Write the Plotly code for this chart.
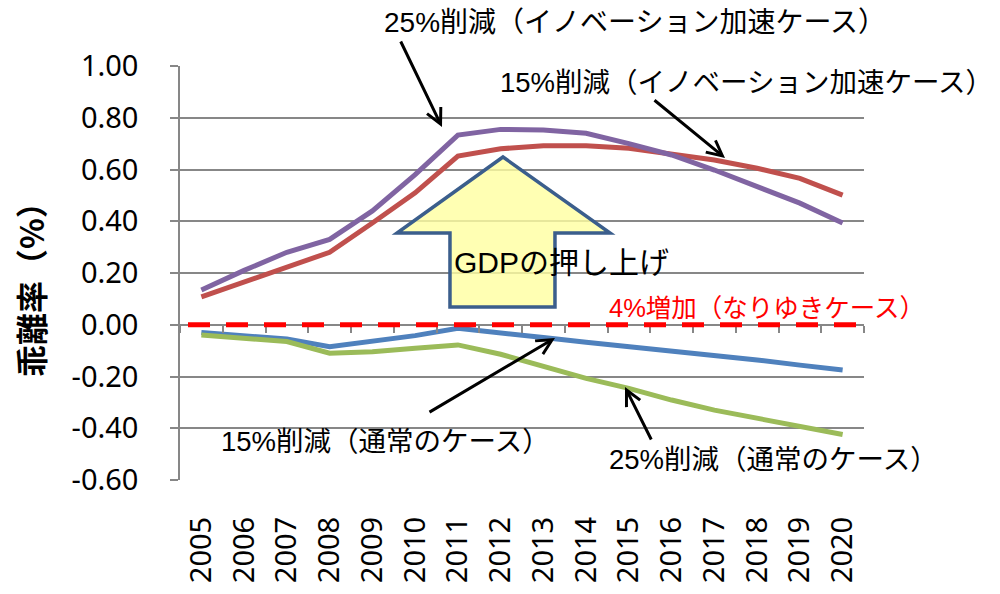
import plotly.graph_objects as go

years = list(range(2005, 2021))
innov25 = [0.134, 0.21, 0.28, 0.33, 0.44, 0.58, 0.733, 0.755, 0.753, 0.74, 0.70, 0.656, 0.598, 0.534, 0.47, 0.393]
innov15 = [0.108, 0.166, 0.225, 0.28, 0.393, 0.51, 0.652, 0.68, 0.692, 0.692, 0.682, 0.66, 0.637, 0.605, 0.566, 0.501]
normal15 = [-0.03, -0.043, -0.055, -0.085, -0.065, -0.042, -0.014, -0.03, -0.049, -0.068, -0.085, -0.10, -0.117, -0.136, -0.156, -0.175]
normal25 = [-0.04, -0.052, -0.065, -0.11, -0.104, -0.091, -0.078, -0.114, -0.162, -0.207, -0.246, -0.291, -0.33, -0.362, -0.391, -0.424]
baseline4 = 0.0
ytick_vals = [1.0, 0.8, 0.6, 0.4, 0.2, 0.0, -0.2, -0.4, -0.6]
ytick_text = ["1.00", "0.80", "0.60", "0.40", "0.20", "0.00", "-0.20", "-0.40", "-0.60"]

W, H = 1000, 594
L, R, T, B = 180, 136, 66, 114
PW, PH = W - L - R, H - T - B


def px(x):
    return (x - L) / PW


def py(y):
    return (H - B - y) / PH


JP = "Liberation Sans, Noto Sans CJK JP"
NUM = "Noto Sans, Open Sans"
GRID = "#878787"

fig = go.Figure()
series = [
    ("15%削減(通常のケース)", normal15, "#4F81BD"),
    ("25%削減(通常のケース)", normal25, "#9BBB59"),
    ("15%削減(イノベーション加速ケース)", innov15, "#C0504D"),
    ("25%削減(イノベーション加速ケース)", innov25, "#8064A2"),
]
for name, vals, col in series:
    fig.add_trace(go.Scatter(x=years, y=vals, name=name, mode="lines",
                             line=dict(color=col, width=5), showlegend=False))

# invisible trace to make the zero-crossing axis render
fig.add_trace(go.Scatter(x=[years[0]], y=[baseline4], xaxis="x2", mode="markers",
                         marker=dict(opacity=0), showlegend=False, hoverinfo="skip"))

fig.update_layout(
    width=W, height=H,
    margin=dict(l=L, r=R, t=T, b=B, autoexpand=False),
    plot_bgcolor="white", paper_bgcolor="white",
    xaxis=dict(range=[2004.5, 2020.5], tickvals=years, ticktext=[str(y) for y in years],
               tickangle=-90, showgrid=False, showline=False, zeroline=False, ticks="",
               tickfont=dict(family=NUM, size=29, color="black"), ticklabelstandoff=30),
    xaxis2=dict(range=[2004.5, 2020.5], overlaying="x", anchor="free", position=0.375,
                side="bottom", showline=True, linecolor=GRID, linewidth=1.5,
                tickvals=[y - 0.5 for y in years] + [2020.5], ticks="outside", ticklen=7,
                tickcolor=GRID, tickwidth=1.5, showticklabels=False, showgrid=False,
                zeroline=False),
    yaxis=dict(range=[-0.6, 1.0], tickvals=ytick_vals, ticktext=ytick_text,
               showgrid=True, gridcolor=GRID, gridwidth=1.5, zeroline=False,
               showline=True, linecolor=GRID, linewidth=1.5, ticks="outside",
               ticklen=8, tickcolor=GRID, tickwidth=1.5,
               tickfont=dict(family=NUM, size=29, color="black"), ticklabelstandoff=26),
)

# 4% increase baseline (dashed red)
fig.add_shape(type="line", xref="paper", yref="y", x0=px(188), x1=1.0,
              y0=baseline4, y1=baseline4, line=dict(color="#FF0000", width=5, dash="22px,16px"),
              layer="above")

# big "GDP push-up" arrow (decorative)
arrow_pts = [(503, 157), (610, 233), (555, 233), (555, 307), (450, 307), (450, 233), (397, 233)]
path = "M " + " L ".join(f"{px(a):.4f},{py(b):.4f}" for a, b in arrow_pts) + " Z"
fig.add_shape(type="path", xref="paper", yref="paper", path=path,
              fillcolor="rgba(255,255,160,0.8)", line=dict(color="#3B5E8C", width=3.5),
              layer="above")

fig.add_annotation(x=px(561), y=py(262), xref="paper", yref="paper", text="GDPの押し上げ",
                   showarrow=False, xanchor="center", yanchor="middle",
                   font=dict(family=JP, size=30, color="black"))

labels = [
    ("25%削減（イノベーション加速ケース）", 383, 23, 28, "black", "left"),
    ("15%削減（イノベーション加速ケース）", 994, 83, 27.5, "black", "right"),
    ("4%増加（なりゆきケース）", 608, 308, 25.5, "#FF0000", "left"),
    ("15%削減（通常のケース）", 220, 441, 27.5, "black", "left"),
    ("25%削減（通常のケース）", 608, 459, 27.5, "black", "left"),
]
for text, x, y, size, col, anc in labels:
    fig.add_annotation(x=px(x), y=py(y), xref="paper", yref="paper", text=text,
                       showarrow=False, xanchor=anc, yanchor="middle", borderpad=0,
                       font=dict(family=JP, size=size, color=col))

arrows = [((442, 127), (400, 40)), ((725, 158), (653, 99)),
          ((555, 338), (428, 413)), ((625, 387), (652, 441))]
for (tx, ty), (sx, sy) in arrows:
    fig.add_annotation(x=px(tx), y=py(ty), xref="paper", yref="paper", text="",
                       showarrow=True, axref="pixel", ayref="pixel",
                       ax=sx - tx, ay=sy - ty, arrowhead=5, arrowsize=1.0,
                       arrowwidth=3, arrowcolor="black", standoff=0)

fig.add_annotation(x=px(30), y=py(282), xref="paper", yref="paper", text="<b>乖離率（%）</b>",
                   textangle=-90, showarrow=False, xanchor="center", yanchor="middle",
                   font=dict(family="Noto Sans CJK JP", size=32, color="black"))

fig.write_html("out.html", config={"displayModeBar": False},
               post_script="document.body.style.margin='0';")
